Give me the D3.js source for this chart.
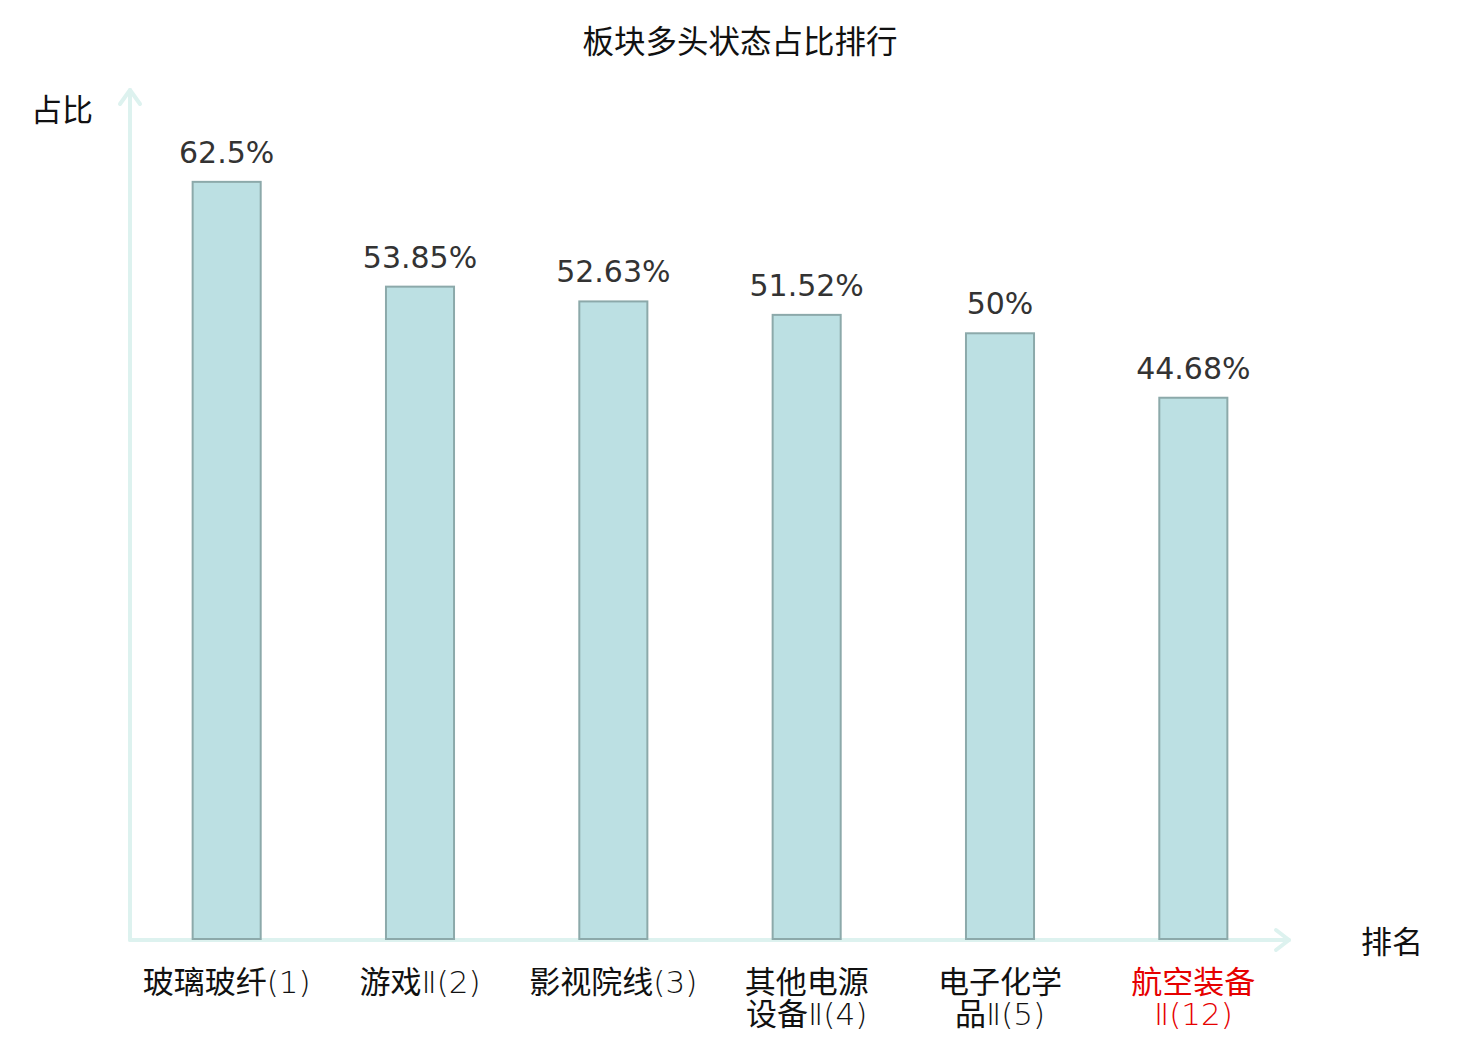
<!DOCTYPE html>
<html>
<head>
<meta charset="utf-8">
<script src="https://cdn.jsdelivr.net/npm/d3@7/dist/d3.min.js"></script>
<style>
  html, body { margin: 0; padding: 0; background: #fff; }
  svg { display: block; }
</style>
</head>
<body>
<svg id="chart" width="1480" height="1040"></svg>
<script>
// ---- data ----
const categories = ["玻璃玻纤(1)", "游戏Ⅱ(2)", "影视院线(3)", "其他电源设备Ⅱ(4)", "电子化学品Ⅱ(5)", "航空装备Ⅱ(12)"];
const values = [62.5, 53.85, 52.63, 51.52, 50, 44.68];
const valueLabels = ["62.5%", "53.85%", "52.63%", "51.52%", "50%", "44.68%"];
const highlighted = ["航空装备Ⅱ(12)"];
const titleText = "板块多头状态占比排行";
const yAxisName = "占比";
const xAxisName = "排名";

const W = 1480, H = 1040;
const left = 130, right = 1290, baseY = 939, topY = 91;
const cjk = "'Noto Sans CJK SC', 'Noto Sans', sans-serif";
const latin = "'DejaVu Sans', sans-serif";

const svg = d3.select("#chart");

const x = d3.scaleBand().domain(categories).range([left, right]).padding(0);
const y = d3.scaleLinear().domain([0, 70]).range([baseY, topY]);
const barW = x.bandwidth() * 0.352;

// title
svg.append("text").attr("x", 740).attr("y", 53).attr("text-anchor", "middle")
  .style("font-family", cjk).style("font-size", "31.5px").attr("fill", "#111").text(titleText);

// axes
const axisColor = "#ddf2ef";
const axG = svg.append("g").attr("stroke", axisColor).attr("stroke-width", 4).attr("fill", "none")
  .attr("stroke-linecap", "round").attr("stroke-linejoin", "round");
axG.append("line").attr("x1", left).attr("y1", baseY + 1).attr("x2", left).attr("y2", topY - 1);
axG.append("polyline").attr("points", `${left - 10},${topY + 13} ${left},${topY - 1} ${left + 10},${topY + 13}`);
axG.append("line").attr("x1", left).attr("y1", baseY + 1).attr("x2", right - 1).attr("y2", baseY + 1);
axG.append("polyline").attr("points", `${right - 14},${baseY - 9} ${right - 1},${baseY + 1} ${right - 14},${baseY + 11}`);

// axis names
svg.append("text").attr("x", 93).attr("y", 121).attr("text-anchor", "end")
  .style("font-family", cjk).style("font-size", "31px").attr("fill", "#111").text(yAxisName);
svg.append("text").attr("x", 1361).attr("y", 953)
  .style("font-family", cjk).style("font-size", "31px").attr("fill", "#111").text(xAxisName);

// bars
svg.append("g").selectAll("rect").data(categories).join("rect")
  .attr("x", d => x(d) + x.bandwidth() / 2 - barW / 2)
  .attr("y", (d, i) => y(values[i]))
  .attr("width", barW)
  .attr("height", (d, i) => baseY - y(values[i]))
  .attr("fill", "#bce0e3")
  .attr("stroke", "#8ca9aa")
  .attr("stroke-width", 2);

// value labels
svg.append("g").selectAll("text").data(categories).join("text")
  .attr("x", d => x(d) + x.bandwidth() / 2)
  .attr("y", (d, i) => y(values[i]) - 19)
  .attr("text-anchor", "middle")
  .style("font-family", latin).style("font-size", "30px")
  .attr("fill", "#333")
  .text((d, i) => valueLabels[i]);

// category labels (wrap long names after 4 chars); latin parts in a light face
const isCJK = ch => /[\u4e00-\u9fff]/.test(ch);
const labG = svg.append("g");
categories.forEach(c => {
  const chars = Array.from(c);
  const lines = chars.length > 7 ? [chars.slice(0, 4).join(""), chars.slice(4).join("")] : [c];
  lines.forEach((l, li) => {
    const t = labG.append("text")
      .attr("x", x(c) + x.bandwidth() / 2)
      .attr("y", 993 + li * 32)
      .attr("text-anchor", "middle")
      .style("font-size", "31px")
      .attr("fill", highlighted.includes(c) ? "#e60000" : "#111");
    // split into runs
    const runs = [];
    Array.from(l).forEach(ch => {
      const k = isCJK(ch);
      if (runs.length && runs[runs.length - 1].k === k) runs[runs.length - 1].s += ch;
      else runs.push({ k, s: ch });
    });
    runs.forEach(r => {
      t.append("tspan")
        .style("font-family", r.k ? cjk : latin)
        .style("font-weight", r.k ? 400 : 200)
        .text(r.s);
    });
  });
});
</script>
</body>
</html>
